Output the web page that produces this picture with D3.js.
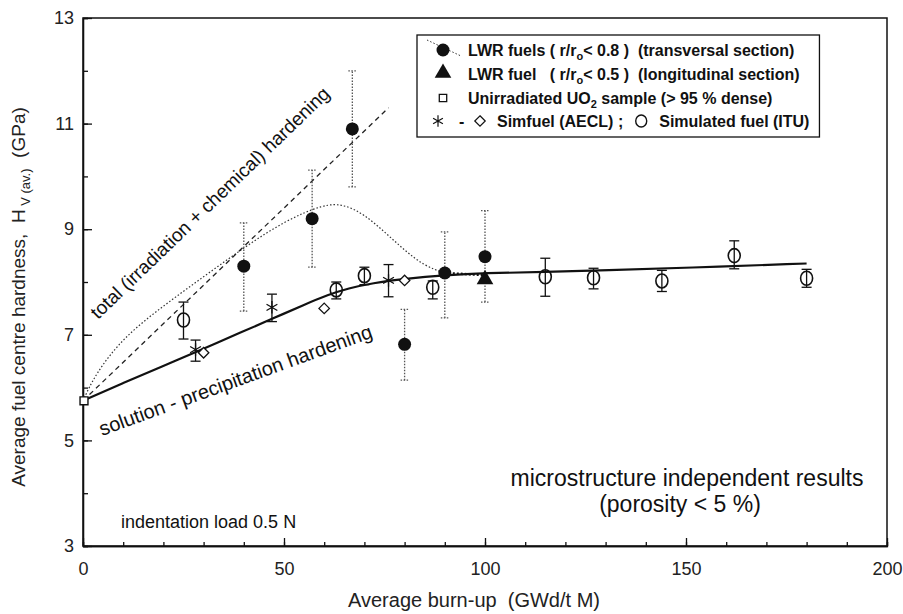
<!DOCTYPE html>
<html>
<head>
<meta charset="utf-8">
<script src="https://cdn.jsdelivr.net/npm/d3@7"></script>
<style>
  body { margin: 0; background: #fff; }
  svg { font-family: "Liberation Sans", Arial, sans-serif; }
  text { white-space: pre; }
</style>
</head>
<body>
<div id="chart-area"></div>
<script>
// axis ticks
const xTicks = [0, 50, 100, 150, 200]
const yTicks = [3, 5, 7, 9, 11, 13]

// LWR fuels, transversal section (filled circles, dotted error bars)
const lwrBurnup = [40, 57, 67, 80, 90, 100]
const lwrHardness = [8.3, 9.2, 10.9, 6.82, 8.17, 8.48]
const lwrErrLow = [7.45, 8.28, 9.8, 6.14, 7.32, 7.62]
const lwrErrHigh = [9.12, 10.12, 12.0, 7.48, 8.95, 9.35]

// LWR fuel, longitudinal section (triangle)
const lwrLongBurnup = [100]
const lwrLongHardness = [8.03]

// unirradiated UO2 (square)
const unirrBurnup = [0]
const unirrHardness = [5.75]

// Simfuel AECL (asterisks with error bars, diamonds)
const aeclStarBurnup = [28, 47, 76]
const aeclStarHardness = [6.72, 7.52, 8.03]
const aeclStarErrLow = [6.5, 7.25, 7.72]
const aeclStarErrHigh = [6.9, 7.77, 8.33]
const aeclDiamondBurnup = [30, 60, 80]
const aeclDiamondHardness = [6.66, 7.5, 8.03]

// Simulated fuel ITU (open circles)
const ituBurnup = [25, 63, 70, 87, 115, 127, 144, 162, 180]
const ituHardness = [7.28, 7.85, 8.12, 7.9, 8.1, 8.08, 8.02, 8.5, 8.07]
const ituErrLow = [6.92, 7.68, 7.95, 7.68, 7.73, 7.87, 7.82, 8.25, 7.9]
const ituErrHigh = [7.62, 8.0, 8.28, 8.02, 8.45, 8.26, 8.22, 8.78, 8.24]

// trend curves
const solidBurnup = [0, 10, 20, 28, 40, 47, 55, 61, 66, 72, 80, 90, 100, 115, 130, 150, 180]
const solidHardness = [5.75, 6.09, 6.41, 6.67, 7.07, 7.3, 7.57, 7.76, 7.88, 7.98, 8.06, 8.13, 8.17, 8.19, 8.22, 8.27, 8.35]
const dottedBurnup = [0, 3, 10, 20, 30, 40, 50, 60, 65, 70, 75, 80, 85, 90]
const dottedHardness = [5.75, 6.25, 6.95, 7.55, 8.1, 8.65, 9.15, 9.48, 9.47, 9.28, 8.95, 8.6, 8.3, 8.17]
const dottedTailBurnup = [90, 100]
const dottedTailHardness = [8.17, 8.13]
const dashedBurnup = [0, 76]
const dashedHardness = [5.75, 11.3]

const zip = (xs, ys) => xs.map((x, i) => ({ x: x, y: ys[i] }))

class HardnessChart {
    constructor(_parentElement) {
        this.parentElement = _parentElement
        this.initVis()
    }

    initVis() {
        const vis = this

        vis.MARGIN = { LEFT: 83, RIGHT: 16, TOP: 18, BOTTOM: 68 }
        vis.WIDTH = 903 - vis.MARGIN.LEFT - vis.MARGIN.RIGHT
        vis.HEIGHT = 614 - vis.MARGIN.TOP - vis.MARGIN.BOTTOM

        vis.svg = d3.select(vis.parentElement).append("svg")
            .attr("width", 903)
            .attr("height", 614)

        vis.g = vis.svg.append("g")
            .attr("transform", `translate(${vis.MARGIN.LEFT}, ${vis.MARGIN.TOP})`)

        // scales
        vis.x = d3.scaleLinear().domain([0, 200]).range([0, vis.WIDTH])
        vis.y = d3.scaleLinear().domain([3, 13]).range([vis.HEIGHT, 0])

        vis.drawAxes()
        vis.drawCurves()
        vis.drawPoints()
        vis.drawLegend()
        vis.drawNotes()
    }

    drawAxes() {
        const vis = this

        // minor ticks (no labels)
        vis.g.append("g")
            .attr("transform", `translate(0, ${vis.HEIGHT})`)
            .call(d3.axisBottom(vis.x).tickValues(d3.range(0, 201, 10)).tickSize(-4).tickFormat(""))
        vis.g.append("g")
            .call(d3.axisLeft(vis.y).tickValues(d3.range(3, 13.1, 1)).tickSize(-5).tickFormat(""))

        // major ticks
        vis.xAxis = vis.g.append("g")
            .attr("class", "x axis")
            .attr("transform", `translate(0, ${vis.HEIGHT})`)
            .call(d3.axisBottom(vis.x).tickValues(xTicks).tickSize(-8).tickSizeOuter(0).tickPadding(16))
        vis.yAxis = vis.g.append("g")
            .attr("class", "y axis")
            .call(d3.axisLeft(vis.y).tickValues(yTicks).tickSize(-9).tickSizeOuter(0).tickPadding(9))

        vis.g.selectAll(".axis text")
            .attr("font-size", "18px")
            .attr("font-family", "Liberation Sans, Arial, sans-serif")
            .attr("fill", "#222")
        vis.g.selectAll(".tick line, .domain").attr("stroke", "#111").attr("stroke-width", 1.3)

        // frame
        vis.g.append("rect")
            .attr("width", vis.WIDTH)
            .attr("height", vis.HEIGHT)
            .attr("fill", "none")
            .attr("stroke", "#111")
            .attr("stroke-width", 1.5)

        // axis labels
        vis.g.append("text")
            .attr("x", 474 - vis.MARGIN.LEFT)
            .attr("y", vis.HEIGHT + 61)
            .attr("font-size", "20px")
            .attr("text-anchor", "middle")
            .attr("fill", "#222")
            .text("Average burn-up  (GWd/t M)")

        const yLabel = vis.g.append("text")
            .attr("transform", "rotate(-90)")
            .attr("x", -279)
            .attr("y", -58)
            .attr("font-size", "19px")
            .attr("text-anchor", "middle")
            .attr("fill", "#222")
        yLabel.append("tspan").text("Average fuel centre hardness,  H")
        yLabel.append("tspan").attr("font-size", "13px").attr("dy", 5).text(" V (av.)")
        yLabel.append("tspan").attr("dy", -5).text("  (GPa)")
    }

    drawCurves() {
        const vis = this
        const line = d3.line()
            .x(d => vis.x(d.x))
            .y(d => vis.y(d.y))

        vis.g.append("path")
            .attr("d", line.curve(d3.curveBasis)(zip(dottedBurnup, dottedHardness)))
            .attr("fill", "none")
            .attr("stroke", "#333")
            .attr("stroke-width", 1.2)
            .attr("stroke-dasharray", "1.5,2")

        vis.g.append("path")
            .attr("d", line.curve(d3.curveLinear)(zip(dashedBurnup, dashedHardness)))
            .attr("fill", "none")
            .attr("stroke", "#222")
            .attr("stroke-width", 1.3)
            .attr("stroke-dasharray", "5,4")

        vis.g.append("path")
            .attr("d", line.curve(d3.curveBasis)(zip(solidBurnup, solidHardness)))
            .attr("fill", "none")
            .attr("stroke", "#111")
            .attr("stroke-width", 2.2)

        vis.g.append("path")
            .attr("d", line.curve(d3.curveLinear)(zip(dottedTailBurnup, dottedTailHardness)))
            .attr("fill", "none")
            .attr("stroke", "#111")
            .attr("stroke-width", 2.5)
            .attr("stroke-dasharray", "2,2")
    }

    errorBars(xs, lows, highs, dotted, capW) {
        const vis = this
        const grp = vis.g.append("g")
            .attr("stroke", dotted ? "#555" : "#111")
            .attr("stroke-width", 1.3)
            .attr("stroke-dasharray", dotted ? "1.5,1.5" : null)
        xs.forEach((x, i) => {
            const px = vis.x(x)
            grp.append("line")
                .attr("x1", px).attr("x2", px)
                .attr("y1", vis.y(lows[i])).attr("y2", vis.y(highs[i]))
            ;[lows[i], highs[i]].forEach(v => {
                grp.append("line")
                    .attr("x1", px - capW).attr("x2", px + capW)
                    .attr("y1", vis.y(v)).attr("y2", vis.y(v))
            })
        })
    }

    drawPoints() {
        const vis = this

        vis.errorBars(lwrBurnup, lwrErrLow, lwrErrHigh, true, 4)
        vis.errorBars(ituBurnup, ituErrLow, ituErrHigh, false, 5)
        vis.errorBars(aeclStarBurnup, aeclStarErrLow, aeclStarErrHigh, false, 5)

        // LWR filled circles
        vis.g.selectAll(".lwr")
            .data(zip(lwrBurnup, lwrHardness))
            .enter().append("circle")
            .attr("class", "lwr")
            .attr("cx", d => vis.x(d.x))
            .attr("cy", d => vis.y(d.y))
            .attr("r", 6.5)
            .attr("fill", "#111")

        // ITU open circles
        vis.g.selectAll(".itu")
            .data(zip(ituBurnup, ituHardness))
            .enter().append("ellipse")
            .attr("class", "itu")
            .attr("cx", d => vis.x(d.x))
            .attr("cy", d => vis.y(d.y))
            .attr("rx", 6)
            .attr("ry", 7)
            .attr("fill", "none")
            .attr("stroke", "#111")
            .attr("stroke-width", 1.6)

        // triangle
        vis.g.selectAll(".lwrLong")
            .data(zip(lwrLongBurnup, lwrLongHardness))
            .enter().append("path")
            .attr("class", "lwrLong")
            .attr("transform", d => `translate(${vis.x(d.x)}, ${vis.y(d.y) - 1})`)
            .attr("d", d3.symbol().type(d3.symbolTriangle).size(120))
            .attr("fill", "#111")

        // unirradiated square
        vis.g.selectAll(".unirr")
            .data(zip(unirrBurnup, unirrHardness))
            .enter().append("path")
            .attr("class", "unirr")
            .attr("transform", d => `translate(${vis.x(d.x) + 1}, ${vis.y(d.y)})`)
            .attr("d", d3.symbol().type(d3.symbolSquare2).size(80))
            .attr("fill", "#fff")
            .attr("stroke", "#111")
            .attr("stroke-width", 1.4)

        // AECL asterisks
        vis.g.selectAll(".star")
            .data(zip(aeclStarBurnup, aeclStarHardness))
            .enter().append("path")
            .attr("class", "star")
            .attr("transform", d => `translate(${vis.x(d.x)}, ${vis.y(d.y)})`)
            .attr("d", d3.symbol().type(d3.symbolAsterisk).size(110))
            .attr("fill", "none")
            .attr("stroke", "#111")
            .attr("stroke-width", 1.3)

        // AECL diamonds
        vis.g.selectAll(".diamond")
            .data(zip(aeclDiamondBurnup, aeclDiamondHardness))
            .enter().append("path")
            .attr("class", "diamond")
            .attr("transform", d => `translate(${vis.x(d.x)}, ${vis.y(d.y)})`)
            .attr("d", d3.symbol().type(d3.symbolDiamond2).size(70))
            .attr("fill", "#fff")
            .attr("stroke", "#111")
            .attr("stroke-width", 1.3)
    }

    drawLegend() {
        const vis = this
        const lx = 417 - vis.MARGIN.LEFT
        const ly = 35 - vis.MARGIN.TOP
        const leg = vis.g.append("g").attr("transform", `translate(${lx}, ${ly})`)

        const box = leg.append("rect")
            .attr("height", 102)
            .attr("fill", "#fff")
            .attr("stroke", "#111")
            .attr("stroke-width", 1.3)

        const rows = [21, 45, 69, 92]
        const tx = 51
        const sx = 26

        const texts = leg.append("g")
            .attr("font-size", "16px")
            .attr("font-weight", "bold")
            .attr("fill", "#111")

        // row 1
        leg.append("line")
            .attr("x1", 10).attr("y1", 5).attr("x2", 44).attr("y2", 21)
            .attr("stroke", "#333").attr("stroke-dasharray", "1.5,2")
        leg.append("circle").attr("cx", sx).attr("cy", rows[0] - 6).attr("r", 6.5).attr("fill", "#111")
        const t1 = texts.append("text").attr("x", tx).attr("y", rows[0])
        t1.append("tspan").text("LWR fuels ( r/r")
        t1.append("tspan").attr("font-size", "11px").attr("dy", 4).text("o")
        t1.append("tspan").attr("dy", -4).text("< 0.8 )  (transversal section)")

        // row 2
        leg.append("path")
            .attr("transform", `translate(${sx}, ${rows[1] - 7})`)
            .attr("d", d3.symbol().type(d3.symbolTriangle).size(120))
            .attr("fill", "#111")
        const t2 = texts.append("text").attr("x", tx).attr("y", rows[1])
        t2.append("tspan").text("LWR fuel   ( r/r")
        t2.append("tspan").attr("font-size", "11px").attr("dy", 4).text("o")
        t2.append("tspan").attr("dy", -4).text("< 0.5 )  (longitudinal section)")

        // row 3
        leg.append("path")
            .attr("transform", `translate(${sx}, ${rows[2] - 6})`)
            .attr("d", d3.symbol().type(d3.symbolSquare2).size(70))
            .attr("fill", "none").attr("stroke", "#111").attr("stroke-width", 1.3)
        const t3 = texts.append("text").attr("x", tx).attr("y", rows[2])
        t3.append("tspan").text("Unirradiated UO")
        t3.append("tspan").attr("font-size", "11px").attr("dy", 4).text("2")
        t3.append("tspan").attr("dy", -4).text(" sample (> 95 % dense)")

        // row 4
        leg.append("path")
            .attr("transform", `translate(${sx - 5}, ${rows[3] - 6})`)
            .attr("d", d3.symbol().type(d3.symbolAsterisk).size(90))
            .attr("fill", "none").attr("stroke", "#111").attr("stroke-width", 1.2)
        texts.append("text").attr("x", sx + 16).attr("y", rows[3]).text("-")
        leg.append("path")
            .attr("transform", `translate(${sx + 37}, ${rows[3] - 6})`)
            .attr("d", d3.symbol().type(d3.symbolDiamond2).size(70))
            .attr("fill", "none").attr("stroke", "#111").attr("stroke-width", 1.2)
        const t4 = texts.append("text").attr("x", sx + 54).attr("y", rows[3])
        t4.append("tspan").text("Simfuel (AECL) ;")
        const t4w = t4.node().getComputedTextLength()
        leg.append("ellipse")
            .attr("cx", sx + 54 + t4w + 18).attr("cy", rows[3] - 6)
            .attr("rx", 5.5).attr("ry", 6)
            .attr("fill", "none").attr("stroke", "#111").attr("stroke-width", 1.4)
        texts.append("text").attr("x", sx + 54 + t4w + 36).attr("y", rows[3]).text("Simulated fuel (ITU)")

        // fit the box to the widest row
        let maxW = 0
        texts.selectAll("text").each(function () {
            const b = this.getBBox()
            maxW = Math.max(maxW, b.x + b.width)
        })
        box.attr("width", maxW + 10)
    }

    drawNotes() {
        const vis = this
        const note = (x, y, size, txt, anchor, angle) => {
            vis.g.append("text")
                .attr("transform", `translate(${x - vis.MARGIN.LEFT}, ${y - vis.MARGIN.TOP}) rotate(${angle || 0})`)
                .attr("font-size", size)
                .attr("text-anchor", anchor || "start")
                .attr("fill", "#111")
                .text(txt)
        }

        note(98, 320, "19px", "total (irradiation + chemical) hardening", "start", -44)
        note(102, 436, "20px", "solution - precipitation hardening", "start", -20)
        note(687, 486, "23px", "microstructure independent results", "middle")
        note(680, 512, "23px", "(porosity < 5 %)", "middle")
        note(121, 528, "18px", "indentation load 0.5 N", "start")
    }
}

new HardnessChart("#chart-area")
</script>
</body>
</html>
